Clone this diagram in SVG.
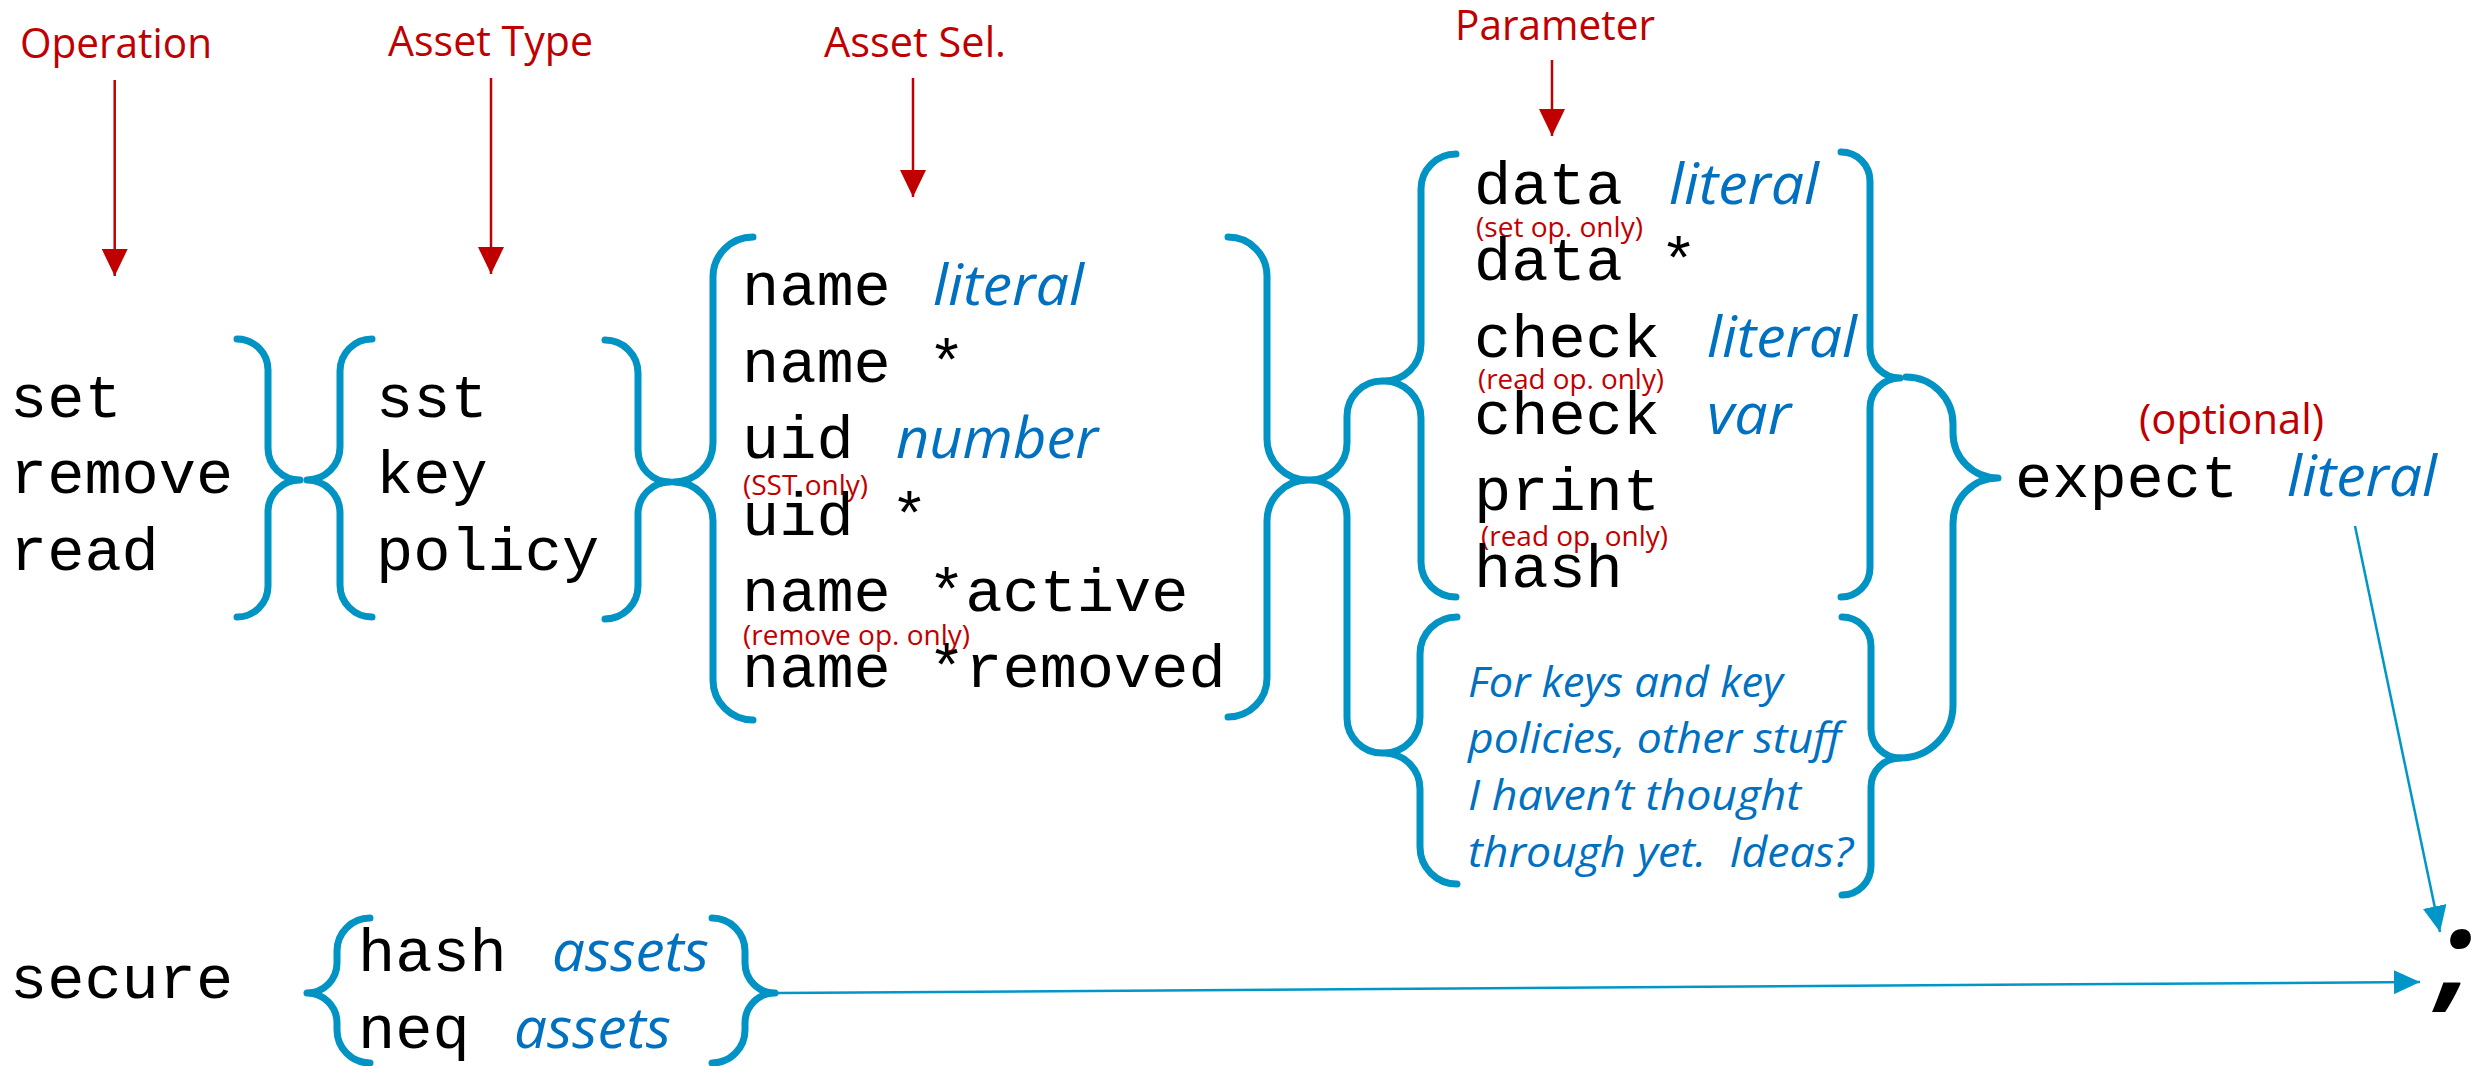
<svg xmlns="http://www.w3.org/2000/svg" width="2476" height="1066" viewBox="0 0 2476 1066">
<style>
.mono{font-family:"Liberation Mono","Courier New",monospace;font-size:62px;fill:#000}
.ital{font-family:"Open Sans","Noto Sans",sans-serif;font-style:italic;font-size:56px;fill:#0070C0}
.note2{font-family:"Open Sans","Noto Sans",sans-serif;font-style:italic;font-size:42px;fill:#0070C0}
.head{font-family:"Open Sans","Noto Sans",sans-serif;font-size:42px;fill:#C00000}
.note{font-family:"Open Sans","Noto Sans",sans-serif;font-size:28px;fill:#C00000}
.brace{fill:none;stroke:#0093C4;stroke-width:7;stroke-linecap:round;stroke-linejoin:round}
.red{stroke:#C00000;stroke-width:2.5;fill:none}
.blue{stroke:#0096C8;stroke-width:2.5;fill:none}
</style>
<defs>
<marker id="rh" markerUnits="userSpaceOnUse" markerWidth="27" markerHeight="26" viewBox="0 0 27 26" refX="27" refY="13" orient="auto"><path d="M0,0 L27,13 L0,26 z" fill="#C00000"/></marker>
<marker id="bh" markerUnits="userSpaceOnUse" markerWidth="26" markerHeight="24" viewBox="0 0 26 24" refX="26" refY="12" orient="auto"><path d="M0,0 L26,12 L0,24 z" fill="#0096C8"/></marker>
</defs>
<rect width="2476" height="1066" fill="#fff"/>

<g id="labels">
<text class="head" x="20" y="58" textLength="192" lengthAdjust="spacingAndGlyphs">Operation</text>
<text class="head" x="388" y="56" textLength="205" lengthAdjust="spacingAndGlyphs">Asset Type</text>
<text class="head" x="824" y="57" textLength="182" lengthAdjust="spacingAndGlyphs">Asset Sel.</text>
<text class="head" x="1455" y="40" textLength="200" lengthAdjust="spacingAndGlyphs">Parameter</text>
</g>

<g id="operation">
<text class="mono" x="10" y="417">set</text>
<text class="mono" x="10" y="493">remove</text>
<text class="mono" x="10" y="570">read</text>
</g>

<g id="asset-type">
<text class="mono" x="376" y="417">sst</text>
<text class="mono" x="376" y="493">key</text>
<text class="mono" x="376" y="570">policy</text>
</g>

<g id="asset-sel">
<text class="mono" x="742" y="305">name</text>
<text class="ital" x="933" y="305" textLength="151" lengthAdjust="spacingAndGlyphs">literal</text>
<text class="mono" x="742" y="381.5">name *</text>
<text class="mono" x="742" y="458">uid</text>
<text class="ital" x="896" y="458" textLength="202" lengthAdjust="spacingAndGlyphs">number</text>
<text class="note" x="743" y="495" textLength="125" lengthAdjust="spacingAndGlyphs">(SST only)</text>
<text class="mono" x="742" y="534.5">uid *</text>
<text class="mono" x="742" y="611">name *active</text>
<text class="note" x="743" y="645" textLength="227" lengthAdjust="spacingAndGlyphs">(remove op. only)</text>
<text class="mono" x="742" y="687">name *removed</text>
</g>

<g id="parameter">
<text class="mono" x="1474" y="203.6">data</text>
<text class="ital" x="1669" y="203.6" textLength="150" lengthAdjust="spacingAndGlyphs">literal</text>
<text class="note" x="1476" y="237" textLength="167" lengthAdjust="spacingAndGlyphs">(set op. only)</text>
<text class="mono" x="1474" y="280">data *</text>
<text class="mono" x="1474" y="357">check</text>
<text class="ital" x="1707" y="357" textLength="150" lengthAdjust="spacingAndGlyphs">literal</text>
<text class="note" x="1478" y="389" textLength="186" lengthAdjust="spacingAndGlyphs">(read op. only)</text>
<text class="mono" x="1474" y="434">check</text>
<text class="ital" x="1707" y="434" textLength="84" lengthAdjust="spacingAndGlyphs">var</text>
<text class="mono" x="1474" y="510">print</text>
<text class="note" x="1481" y="545.5" textLength="187" lengthAdjust="spacingAndGlyphs">(read op. only)</text>
<text class="mono" x="1474" y="587">hash</text>
</g>

<g id="other-parameters">
<text class="note2" x="1468" y="697" textLength="315" lengthAdjust="spacingAndGlyphs">For keys and key</text>
<text class="note2" x="1468" y="753" textLength="373" lengthAdjust="spacingAndGlyphs">policies, other stuff</text>
<text class="note2" x="1468" y="810" textLength="333" lengthAdjust="spacingAndGlyphs">I haven’t thought</text>
<text class="note2" x="1468" y="867" textLength="385" lengthAdjust="spacingAndGlyphs" xml:space="preserve">through yet.  Ideas?</text>
</g>

<g id="expect">
<text class="head" x="2139" y="434" textLength="185" lengthAdjust="spacingAndGlyphs">(optional)</text>
<text class="mono" x="2015" y="497">expect</text>
<text class="ital" x="2287" y="496" textLength="150" lengthAdjust="spacingAndGlyphs">literal</text>
</g>

<g id="secure">
<text class="mono" x="10" y="998">secure</text>
<text class="mono" x="358" y="971">hash</text>
<text class="ital" x="552" y="971" textLength="157" lengthAdjust="spacingAndGlyphs">assets</text>
<text class="mono" x="358" y="1048">neq</text>
<text class="ital" x="514" y="1048" textLength="157" lengthAdjust="spacingAndGlyphs">assets</text>
</g>

<g id="terminator">
<text x="2438" y="996" style="font-family:'Open Sans','Noto Sans',sans-serif;font-weight:bold;font-style:italic;font-size:120px;fill:#000">;</text>
</g>

<g id="braces">
<path class="brace" d="M237,339 A31,31 0 0 1 268,370 L268,448 A32,32 0 0 0 300,480 A32,32 0 0 0 268,512 L268,586 A31,31 0 0 1 237,617"/>
<path class="brace" d="M372,339 A32,32 0 0 0 340,371 L340,447 A33,33 0 0 1 307,480 A33,33 0 0 1 340,513 L340,585 A32,32 0 0 0 372,617"/>
<path class="brace" d="M605,340 A33,33 0 0 1 638,373 L638,450 A32,32 0 0 0 670,482 A32,32 0 0 0 638,514 L638,586 A33,33 0 0 1 605,619"/>
<path class="brace" d="M753,237 A40,40 0 0 0 713,277 L713,443 A39,39 0 0 1 674,482 A39,39 0 0 1 713,521 L713,680 A40,40 0 0 0 753,720"/>
<path class="brace" d="M1228,237 A39,39 0 0 1 1267,276 L1267,439 A41,41 0 0 0 1308,480 A41,41 0 0 0 1267,521 L1267,678 A39,39 0 0 1 1228,717"/>
<path class="brace" d="M1382,381 A35,35 0 0 0 1347,416 L1347,443 A37,37 0 0 1 1310,480 A37,37 0 0 1 1347,517 L1347,718 A35,35 0 0 0 1382,753"/>
<path class="brace" d="M1456,154 A35,35 0 0 0 1421,189 L1421,344 A37,37 0 0 1 1384,381 A37,37 0 0 1 1421,418 L1421,562 A35,35 0 0 0 1456,597"/>
<path class="brace" d="M1457,617 A37,37 0 0 0 1420,654 L1420,717 A36,36 0 0 1 1384,753 A36,36 0 0 1 1420,789 L1420,847 A37,37 0 0 0 1457,884"/>
<path class="brace" d="M1842,617 A29,29 0 0 1 1871,646 L1871,729 A29,29 0 0 0 1900,758 A29,29 0 0 0 1871,787 L1871,866 A29,29 0 0 1 1842,895"/>
<path class="brace" d="M1906,377 A47,47 0 0 1 1953,424 L1953,433 A45,45 0 0 0 1998,478 A45,45 0 0 0 1953,523 L1953,705 A53,53 0 0 1 1900,758"/>
<path class="brace" d="M1841,152 A29,29 0 0 1 1870,181 L1870,348 A30,30 0 0 0 1900,378 A30,30 0 0 0 1870,408 L1870,568 A29,29 0 0 1 1841,597"/>
<path class="brace" d="M370,918 A33,33 0 0 0 337,951 L337,963 A30,30 0 0 1 307,993 A30,30 0 0 1 337,1023 L337,1030 A33,33 0 0 0 370,1063"/>
<path class="brace" d="M712,918 A33,33 0 0 1 745,951 L745,963 A30,30 0 0 0 775,993 A30,30 0 0 0 745,1023 L745,1030 A33,33 0 0 1 712,1063"/>
</g>

<g id="connectors">
<path class="red" d="M114.7,80 L114.7,276" marker-end="url(#rh)"/>
<path class="red" d="M491,78 L491,274" marker-end="url(#rh)"/>
<path class="red" d="M913,78 L913,197" marker-end="url(#rh)"/>
<path class="red" d="M1552,60 L1552,136" marker-end="url(#rh)"/>
<path class="blue" d="M2355,526 L2440,932" marker-end="url(#bh)"/>
<path class="blue" d="M778,993 L2420,982" marker-end="url(#bh)"/>
</g>
</svg>
